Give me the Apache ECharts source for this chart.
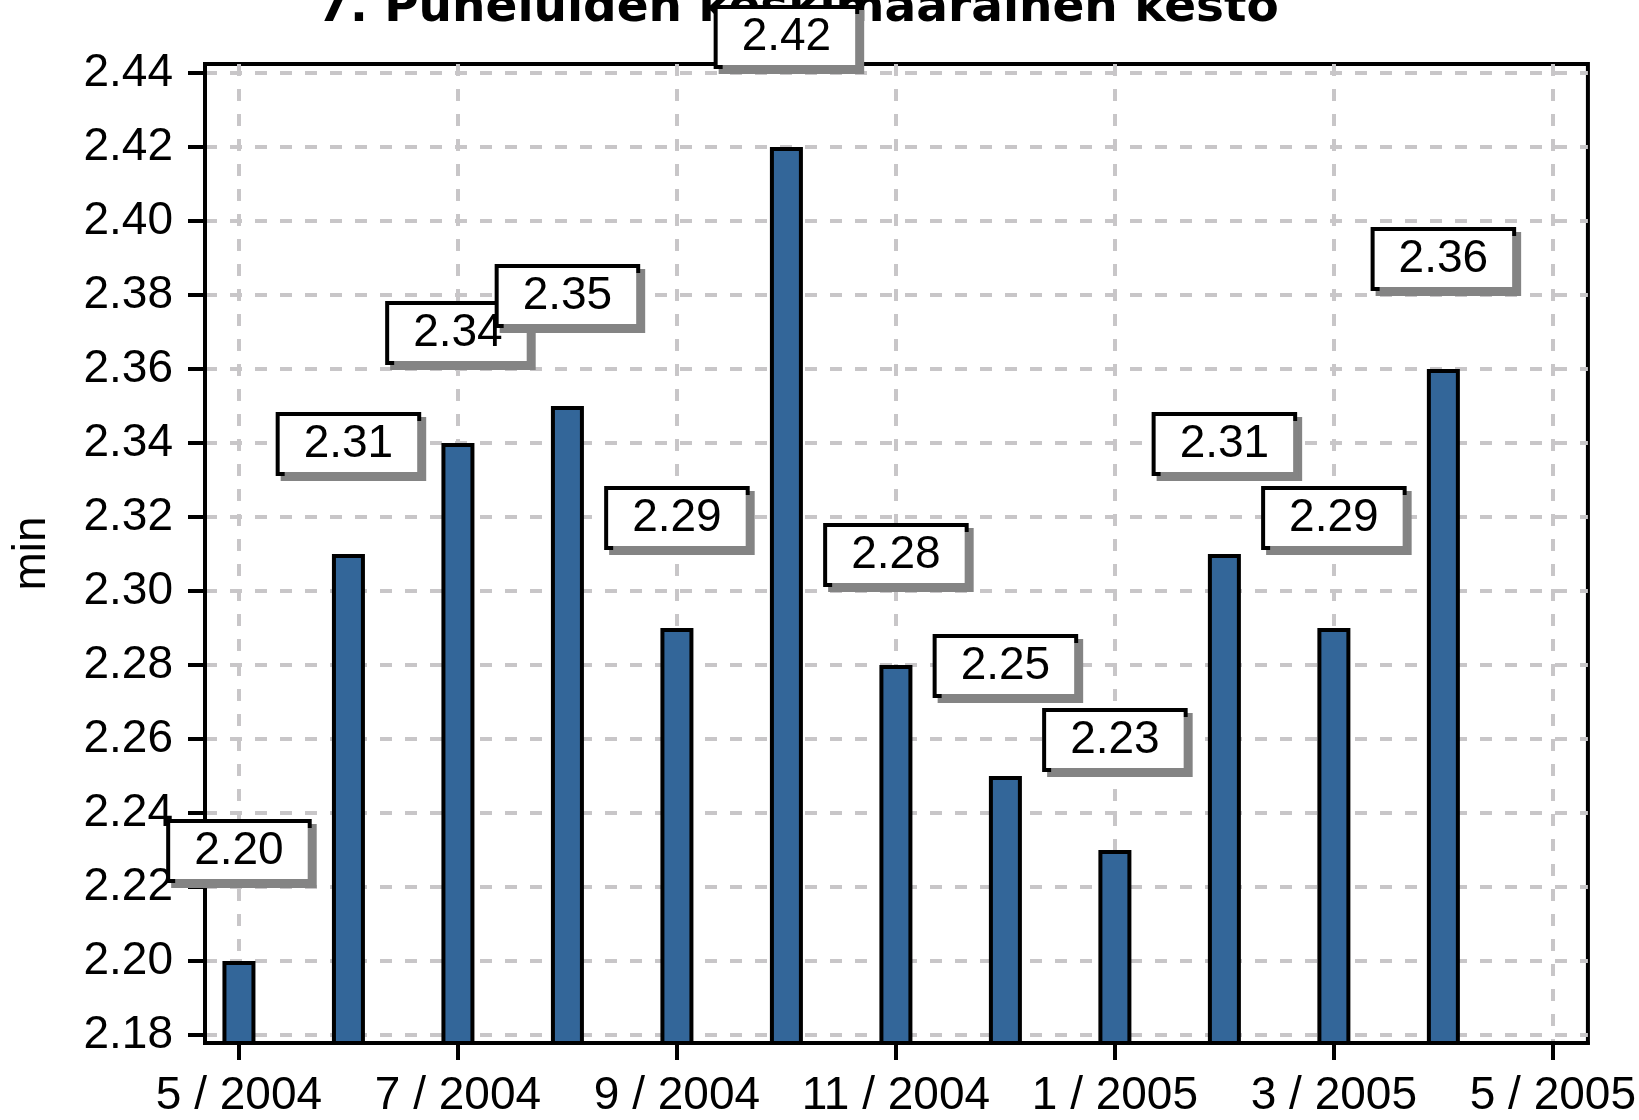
<!DOCTYPE html>
<html>
<head>
<meta charset="utf-8">
<title>Puheluiden keskimääräinen kesto</title>
<script src="https://cdn.jsdelivr.net/npm/echarts@6/dist/echarts.min.js"></script>
<style>
  html, body { margin: 0; padding: 0; background: #fff; }
  #chart { width: 1639px; height: 1120px; }
</style>
</head>
<body>
<div id="chart"></div>
<script>
// months, one bar per month
const months = [
  "5 / 2004", "6 / 2004", "7 / 2004", "8 / 2004", "9 / 2004", "10 / 2004",
  "11 / 2004", "12 / 2004", "1 / 2005", "2 / 2005", "3 / 2005", "4 / 2005", "5 / 2005"
];
// average call duration, min
const durations = [2.20, 2.31, 2.34, 2.35, 2.29, 2.42, 2.28, 2.25, 2.23, 2.31, 2.29, 2.36];
// axis ticks
const xTicks = [0, 2, 4, 6, 8, 10, 12];
const yTicks = [2.18, 2.20, 2.22, 2.24, 2.26, 2.28, 2.30, 2.32, 2.34, 2.36, 2.38, 2.40, 2.42, 2.44];

const font = "Liberation Sans";

let myChart = echarts.init(document.getElementById("chart"));
let barData = durations.map((v, i) => [i, v]);

let option = {
  backgroundColor: "#fff",
  animation: false,
  title: {
    text: "7. Puheluiden keskimääräinen kesto",
    left: 798,
    top: -15,
    padding: 0,
    textAlign: "center",
    z: 1,
    textStyle: {
      fontFamily: "DejaVu Sans",
      fontWeight: "bold",
      fontSize: 47,
      color: "#000"
    }
  },
  grid: {
    left: 205,
    right: 51,
    top: 64,
    bottom: 77,
    show: true,
    backgroundColor: "#fff",
    borderColor: "#000",
    borderWidth: 4
  },
  xAxis: {
    type: "value",
    min: -0.31,
    max: 12.32,
    splitNumber: 6,
    axisLine: { show: true, onZero: false, lineStyle: { color: "#000", width: 4 } },
    axisTick: {
      show: true,
      length: 17,
      customValues: xTicks,
      lineStyle: { color: "#000", width: 4 }
    },
    axisLabel: {
      customValues: xTicks,
      margin: 30,
      formatter: v => months[Math.round(v)],
      fontFamily: font,
      fontSize: 46,
      color: "#000"
    },
    splitLine: {
      show: true,
      lineStyle: { color: "#c8c6c8", width: 4, type: [12, 13] }
    }
  },
  yAxis: {
    type: "value",
    min: 2.17784,
    max: 2.44243,
    splitNumber: 13,
    name: "min",
    nameLocation: "middle",
    nameRotate: 90,
    nameGap: 150,
    nameTextStyle: { fontFamily: font, fontSize: 46, color: "#000" },
    axisLine: { show: true, onZero: false, lineStyle: { color: "#000", width: 4 } },
    axisTick: {
      show: true,
      length: 17,
      customValues: yTicks,
      lineStyle: { color: "#000", width: 4 }
    },
    axisLabel: {
      customValues: yTicks,
      margin: 32,
      formatter: v => v.toFixed(2),
      fontFamily: font,
      fontSize: 46,
      color: "#000"
    },
    splitLine: {
      show: true,
      lineStyle: { color: "#c8c6c8", width: 4, type: [12, 13] }
    }
  },
  series: [
    {
      name: "kesto",
      type: "bar",
      data: barData,
      barWidth: 33,
      z: 10,
      itemStyle: { color: "#336699", borderColor: "#000", borderWidth: 4 },
      label: {
        show: true,
        position: "top",
        distance: 82,
        formatter: p => p.value[1].toFixed(2),
        fontFamily: font,
        fontSize: 46,
        lineHeight: 46,
        color: "#000",
        backgroundColor: "#fff",
        borderColor: "#000",
        borderWidth: 4,
        padding: [5, 24],
        shadowColor: "#848484",
        shadowBlur: 0,
        shadowOffsetX: 5,
        shadowOffsetY: 5
      }
    }
  ]
};

myChart.setOption(option);
window.addEventListener("resize", () => {
  myChart.resize();
});
</script>
</body>
</html>
